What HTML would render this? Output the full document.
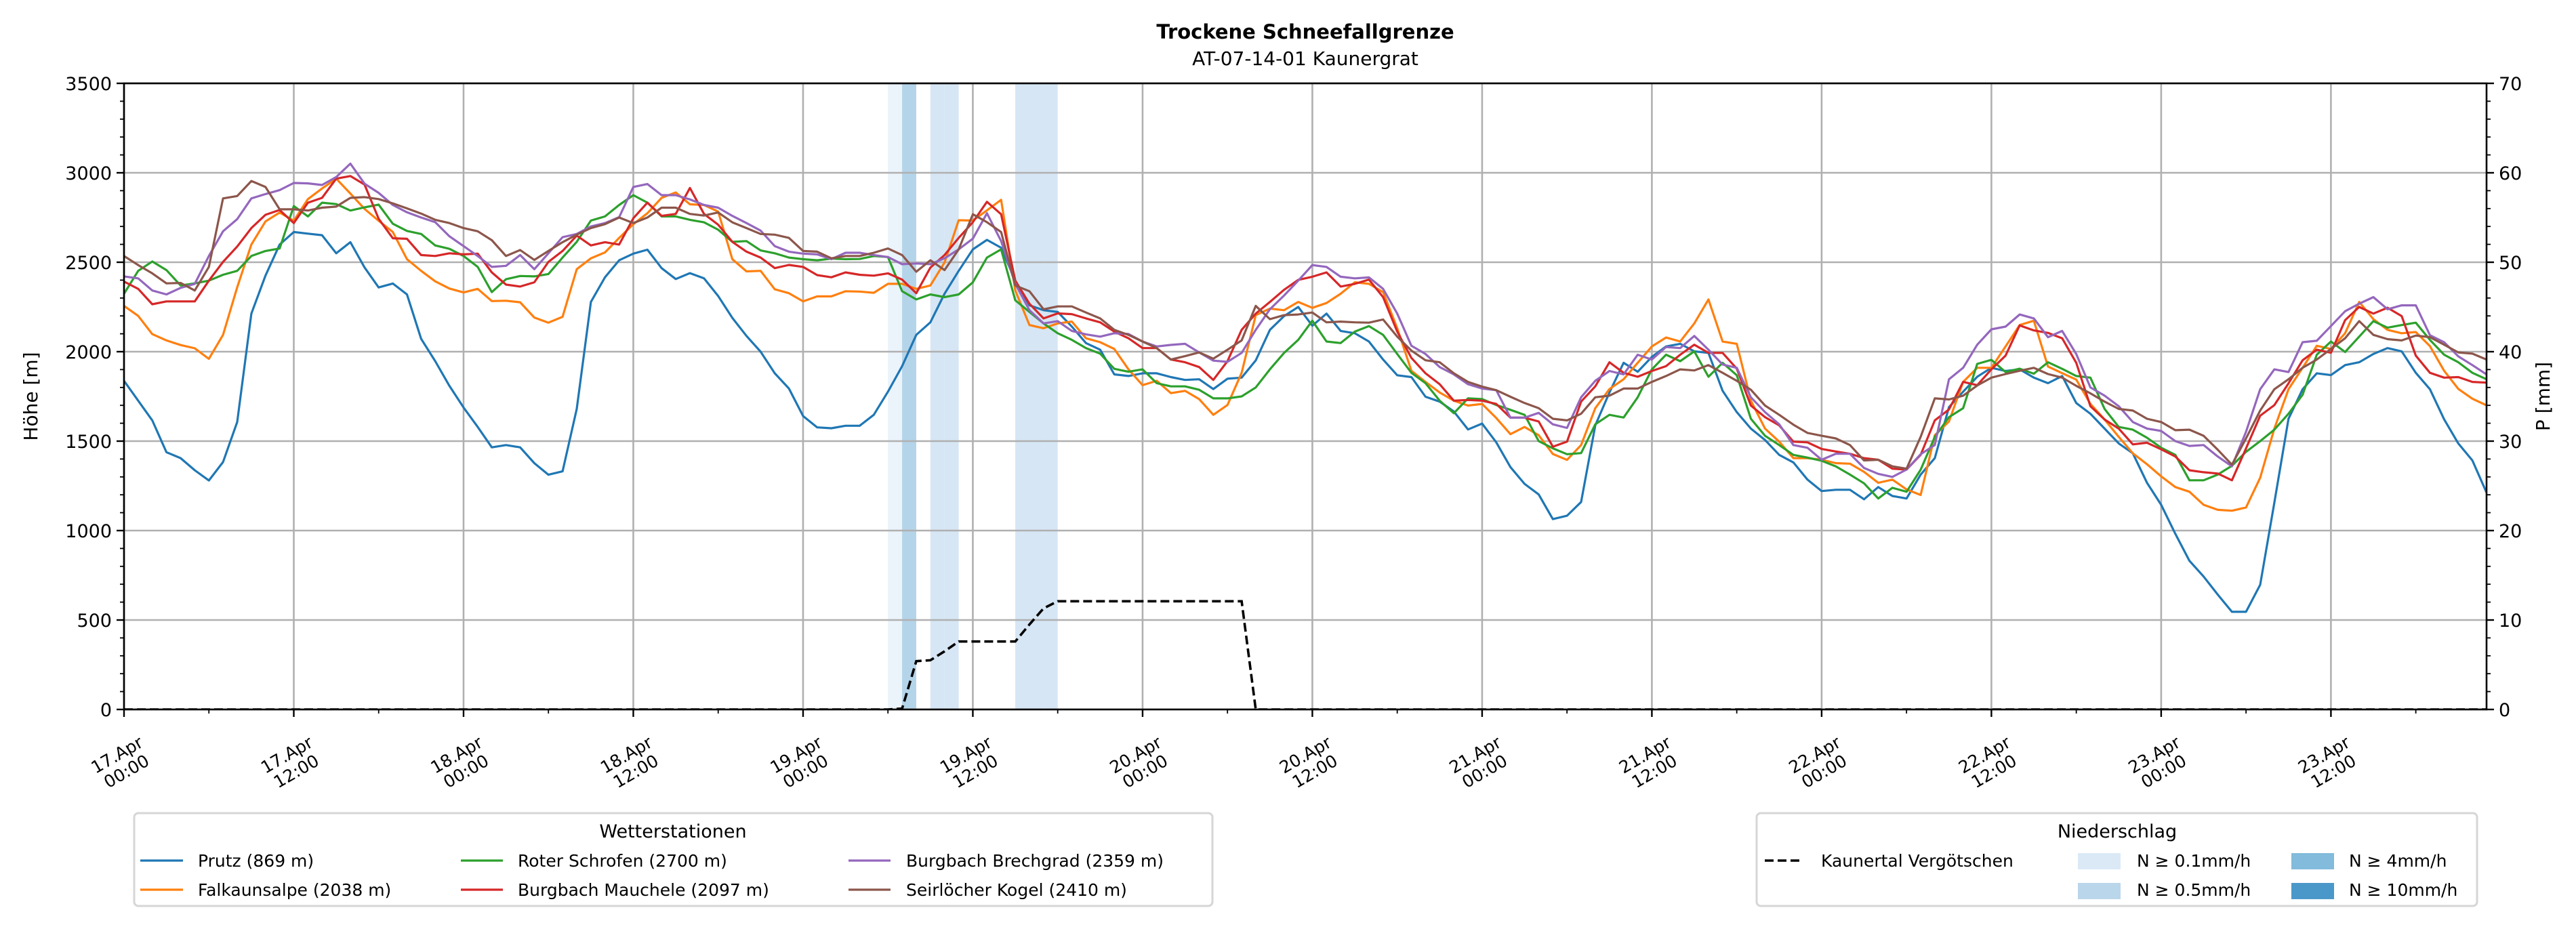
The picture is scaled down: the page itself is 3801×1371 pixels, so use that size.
<!DOCTYPE html>
<html><head><meta charset="utf-8"><style>
html,body{margin:0;padding:0;background:#fff;}
svg{display:block;font-family:"DejaVu Sans","Liberation Sans",sans-serif;}
</style></head><body>
<svg id="chart" width="3801" height="1371" viewBox="0 0 3801 1371" xmlns="http://www.w3.org/2000/svg">
<text x="1926" y="57" text-anchor="middle" font-size="29" font-weight="bold">Trockene Schneefallgrenze</text>
<text x="1926" y="96" text-anchor="middle" font-size="28">AT-07-14-01 Kaunergrat</text>
<g id="plot"></g>
<text transform="translate(55,585) rotate(-90)" text-anchor="middle" font-size="28">Höhe [m]</text>
<text transform="translate(3762,585) rotate(-90)" text-anchor="middle" font-size="28">P [mm]</text>
<g>
<rect x="198" y="1200" width="1591" height="137" rx="6" fill="#fff" stroke="#d6d6d6" stroke-width="3"/>
<text x="993" y="1236" text-anchor="middle" font-size="27">Wetterstationen</text>
<g><line x1="207" y1="1270" x2="270" y2="1270" stroke="#1f77b4" stroke-width="3.2"/><text x="292" y="1279" font-size="25">Prutz (869 m)</text></g>
<g><line x1="207" y1="1313" x2="270" y2="1313" stroke="#ff7f0e" stroke-width="3.2"/><text x="292" y="1322" font-size="25">Falkaunsalpe (2038 m)</text></g>
<g><line x1="680" y1="1270" x2="742" y2="1270" stroke="#2ca02c" stroke-width="3.2"/><text x="764" y="1279" font-size="25">Roter Schrofen (2700 m)</text></g>
<g><line x1="680" y1="1313" x2="742" y2="1313" stroke="#d62728" stroke-width="3.2"/><text x="764" y="1322" font-size="25">Burgbach Mauchele (2097 m)</text></g>
<g><line x1="1252" y1="1270" x2="1314" y2="1270" stroke="#9467bd" stroke-width="3.2"/><text x="1337" y="1279" font-size="25">Burgbach Brechgrad (2359 m)</text></g>
<g><line x1="1252" y1="1313" x2="1314" y2="1313" stroke="#8c564b" stroke-width="3.2"/><text x="1337" y="1322" font-size="25">Seirlöcher Kogel (2410 m)</text></g>
</g>
<g>
<rect x="2592" y="1200" width="1063" height="137" rx="6" fill="#fff" stroke="#d6d6d6" stroke-width="3"/>
<text x="3124" y="1236" text-anchor="middle" font-size="27">Niederschlag</text>
<g><line x1="2604" y1="1270" x2="2660" y2="1270" stroke="#000" stroke-width="3.5" stroke-dasharray="13,6"/><text x="2687" y="1279" font-size="25">Kaunertal Vergötschen</text></g>
<g><rect x="3066" y="1259" width="63" height="24" fill="#dbe9f6"/><text x="3153" y="1279" font-size="25">N ≥ 0.1mm/h</text></g>
<g><rect x="3066" y="1303" width="63" height="24" fill="#bad6eb"/><text x="3153" y="1322" font-size="25">N ≥ 0.5mm/h</text></g>
<g><rect x="3381" y="1259" width="63" height="24" fill="#82bbdb"/><text x="3466" y="1279" font-size="25">N ≥ 4mm/h</text></g>
<g><rect x="3381" y="1303" width="63" height="24" fill="#4a98c9"/><text x="3466" y="1322" font-size="25">N ≥ 10mm/h</text></g>
</g>
</svg>
<script>
const prutz=[1837,1726,1616,1438,1405,1337,1280,1383,1607,2213,2425,2599,2669,2660,2651,2550,2612,2471,2359,2381,2320,2072,1947,1809,1688,1579,1465,1478,1465,1377,1312,1331,1680,2278,2416,2511,2548,2570,2467,2406,2439,2410,2311,2189,2088,2000,1879,1794,1640,1577,1572,1586,1586,1647,1776,1919,2094,2164,2324,2452,2572,2625,2581,2397,2259,2232,2222,2140,2048,2011,1873,1864,1879,1879,1858,1842,1846,1791,1849,1855,1951,2122,2199,2250,2145,2213,2116,2103,2057,1956,1868,1858,1748,1721,1666,1565,1598,1493,1355,1261,1202,1064,1083,1160,1588,1772,1938,1888,1971,2029,2044,2002,1993,1781,1662,1570,1506,1423,1381,1285,1221,1228,1228,1175,1243,1193,1179,1313,1405,1690,1776,1860,1910,1892,1901,1855,1824,1864,1713,1653,1570,1487,1432,1267,1144,982,831,743,642,546,546,697,1156,1625,1790,1879,1869,1925,1941,1987,2020,2002,1882,1790,1622,1487,1392,1212];
const falkaunsalpe=[2256,2200,2098,2063,2037,2019,1960,2094,2360,2599,2728,2778,2732,2853,2912,2967,2884,2798,2732,2669,2517,2452,2393,2353,2331,2351,2283,2285,2276,2191,2162,2195,2461,2522,2555,2636,2713,2774,2860,2890,2824,2820,2783,2517,2449,2452,2349,2327,2281,2309,2309,2338,2336,2329,2379,2379,2351,2370,2498,2735,2733,2790,2849,2342,2149,2131,2158,2168,2075,2053,2015,1901,1813,1837,1768,1781,1735,1647,1702,1882,2204,2241,2232,2278,2245,2272,2324,2388,2379,2333,2131,1893,1831,1772,1726,1699,1708,1629,1539,1579,1533,1428,1395,1478,1684,1791,1846,1938,2029,2079,2057,2158,2292,2057,2044,1726,1570,1497,1405,1405,1396,1377,1374,1328,1267,1285,1230,1199,1533,1610,1831,1910,1910,2029,2149,2173,1917,1880,1844,1708,1621,1524,1432,1371,1303,1243,1217,1144,1116,1111,1129,1295,1570,1790,1910,2033,2015,2103,2278,2182,2122,2103,2110,2031,1893,1792,1737,1700];
const roterSchrofen=[2324,2452,2504,2456,2370,2382,2397,2430,2452,2535,2563,2577,2814,2756,2833,2825,2789,2807,2822,2715,2675,2658,2594,2575,2535,2474,2333,2405,2423,2421,2434,2526,2614,2733,2756,2820,2875,2833,2756,2756,2737,2723,2682,2614,2618,2566,2550,2526,2517,2511,2520,2517,2518,2535,2529,2338,2292,2320,2305,2320,2388,2526,2572,2287,2222,2158,2103,2066,2020,1989,1904,1888,1901,1824,1806,1806,1787,1739,1739,1750,1800,1901,1993,2066,2173,2057,2048,2112,2143,2094,1987,1882,1824,1726,1656,1739,1735,1702,1675,1647,1500,1460,1427,1433,1594,1647,1632,1745,1901,1983,1947,2002,1860,1938,1868,1625,1530,1478,1423,1408,1390,1359,1313,1264,1179,1239,1217,1340,1524,1634,1684,1932,1954,1886,1905,1877,1941,1904,1864,1855,1680,1579,1564,1519,1463,1423,1281,1281,1313,1362,1440,1500,1564,1653,1759,1983,2057,1998,2084,2171,2134,2149,2162,2066,1983,1941,1882,1846];
const burgbachMauchele=[2392,2351,2265,2281,2281,2281,2397,2502,2588,2691,2765,2792,2719,2833,2860,2967,2982,2934,2743,2634,2631,2540,2535,2550,2544,2548,2443,2375,2364,2388,2502,2563,2649,2594,2612,2599,2746,2833,2759,2770,2915,2770,2710,2614,2559,2526,2467,2485,2474,2428,2416,2443,2430,2425,2438,2403,2327,2470,2540,2636,2724,2838,2768,2397,2268,2186,2214,2210,2186,2164,2112,2075,2020,2020,1956,1941,1914,1842,1947,2122,2213,2278,2346,2401,2419,2443,2364,2379,2403,2305,2112,1965,1879,1818,1726,1730,1726,1708,1631,1631,1610,1469,1497,1721,1806,1941,1882,1860,1892,1919,1983,2039,1993,1993,1905,1699,1634,1588,1497,1493,1456,1442,1429,1405,1396,1346,1341,1423,1616,1677,1831,1813,1901,1978,2147,2119,2105,2075,1938,1695,1621,1570,1482,1491,1454,1414,1337,1326,1319,1281,1459,1642,1701,1823,1952,2011,1994,2176,2250,2213,2246,2199,1978,1882,1855,1858,1831,1827];
const burgbachBrechgrad=[2421,2410,2342,2320,2357,2379,2535,2673,2741,2857,2881,2903,2943,2941,2932,2976,3051,2939,2888,2820,2779,2750,2724,2645,2590,2535,2474,2480,2540,2461,2550,2640,2658,2700,2719,2752,2921,2937,2875,2875,2851,2820,2805,2759,2719,2677,2590,2559,2548,2544,2517,2553,2553,2540,2529,2489,2493,2489,2522,2572,2632,2774,2618,2379,2232,2158,2171,2116,2097,2084,2103,2099,2057,2029,2038,2044,1996,1950,1943,1993,2122,2237,2314,2397,2484,2474,2419,2410,2415,2351,2213,2033,1987,1914,1873,1818,1794,1785,1631,1631,1658,1594,1574,1745,1837,1892,1873,1983,1956,2026,2020,2088,2011,1928,1910,1745,1662,1594,1478,1463,1396,1429,1429,1350,1317,1300,1341,1427,1478,1846,1910,2039,2125,2140,2208,2186,2081,2116,1987,1800,1754,1695,1607,1570,1557,1500,1473,1478,1414,1359,1552,1790,1901,1886,2053,2061,2143,2226,2268,2305,2237,2259,2259,2092,2053,1974,1925,1873];
const seirloecherKogel=[2535,2484,2438,2382,2384,2342,2474,2857,2870,2954,2921,2796,2796,2789,2805,2811,2860,2864,2853,2829,2801,2772,2737,2719,2691,2673,2623,2535,2568,2513,2563,2612,2654,2691,2713,2750,2719,2750,2805,2805,2770,2761,2778,2723,2691,2658,2654,2636,2563,2559,2522,2535,2535,2553,2577,2540,2447,2511,2456,2572,2768,2724,2669,2370,2338,2237,2253,2253,2219,2186,2122,2094,2057,2020,1956,1975,1996,1961,2011,2063,2256,2182,2204,2208,2219,2164,2168,2164,2162,2180,2084,2006,1952,1941,1879,1831,1805,1785,1748,1713,1684,1625,1616,1653,1745,1754,1794,1794,1831,1864,1901,1895,1925,1882,1837,1787,1699,1647,1592,1546,1530,1515,1478,1392,1396,1359,1346,1524,1739,1733,1754,1811,1855,1875,1893,1910,1875,1855,1809,1767,1721,1680,1671,1625,1607,1561,1564,1530,1452,1368,1515,1671,1790,1846,1910,1956,2015,2075,2171,2094,2070,2063,2090,2081,2039,1996,1989,1956];
const kaunertalP=[0,0,0,0,0,0,0,0,0,0,0,0,0,0,0,0,0,0,0,0,0,0,0,0,0,0,0,0,0,0,0,0,0,0,0,0,0,0,0,0,0,0,0,0,0,0,0,0,0,0,0,0,0,0,0,0.1,5.4,5.5,6.5,7.6,7.6,7.6,7.6,7.6,9.5,11.3,12.1,12.1,12.1,12.1,12.1,12.1,12.1,12.1,12.1,12.1,12.1,12.1,12.1,12.1,0,0,0,0,0,0,0,0,0,0,0,0,0,0,0,0,0,0,0,0,0,0,0,0,0,0,0,0,0,0,0,0,0,0,0,0,0,0,0,0,0,0,0,0,0,0,0,0,0,0,0,0,0,0,0,0,0,0,0,0,0,0,0,0,0,0,0,0,0,0,0,0,0,0,0,0,0,0,0,0,0,0,0,0,0,0,0,0,0,0,0,0,0,0];
const precipHours=[54,55,57,58,63,64,65];
const precipRates=[0.05,0.6,0.2,0.2,0.3,0.3,0.3];
const yTicks=[0,500,1000,1500,2000,2500,3000,3500];
const y2Ticks=[0,10,20,30,40,50,60,70];
const xTickHours=[0,12,24,36,48,60,72,84,96,108,120,132,144];
const xTickLabels=[["17.Apr","00:00"],["17.Apr","12:00"],["18.Apr","00:00"],["18.Apr","12:00"],["19.Apr","00:00"],["19.Apr","12:00"],["20.Apr","00:00"],["20.Apr","12:00"],["21.Apr","00:00"],["21.Apr","12:00"],["22.Apr","00:00"],["22.Apr","12:00"],["23.Apr","00:00"],["23.Apr","12:00"]];
</script>
<script>
const NS="http://www.w3.org/2000/svg";
const L=183,R=3669,T=123,B=1047;
const XMAX=167;
const xs=h=>L+(R-L)*h/XMAX;
const ys=v=>B-(B-T)*v/3500;
const ys2=v=>B-(B-T)*v/70;
const plot=document.getElementById('plot');
function mk(tag,attrs,parent){const e=document.createElementNS(NS,tag);for(const k in attrs)e.setAttribute(k,attrs[k]);(parent||plot).appendChild(e);return e;}
const xTickH=xTickLabels.map((_,i)=>i*12);
// precip bands
precipHours.forEach((h,i)=>{
  const r=precipRates[i];
  const c=r>=10?'#4a98c9':r>=4?'#82bbdb':r>=0.5?'#b4d4e9':r>=0.1?'#d6e6f4':'#ebf3fb';
  const e=mk('rect',{x:xs(h),y:T,width:xs(h+1)-xs(h),height:B-T,fill:c});
  
  
});
// grid
yTicks.forEach(v=>{const e=mk('line',{x1:L,x2:R,y1:ys(v),y2:ys(v),stroke:'#b0b0b0','stroke-width':2.6});
  
  });
xTickH.forEach(h=>{const e=mk('line',{x1:xs(h),x2:xs(h),y1:T,y2:B,stroke:'#b0b0b0','stroke-width':2.6});
  
  });
// series
const series=[[prutz,'#1f77b4','series-prutz'],[falkaunsalpe,'#ff7f0e','series-falkaunsalpe'],[roterSchrofen,'#2ca02c','series-roter-schrofen'],[burgbachMauchele,'#d62728','series-burgbach-mauchele'],[burgbachBrechgrad,'#9467bd','series-burgbach-brechgrad'],[seirloecherKogel,'#8c564b','series-seirloecher-kogel']];
mk('clipPath',{id:'clip'}).appendChild((()=>{const r=document.createElementNS(NS,'rect');r.setAttribute('x',L);r.setAttribute('y',T);r.setAttribute('width',R-L);r.setAttribute('height',B-T);return r;})());
series.forEach(s=>{
  const d=s[0].map((v,i)=>(i?'L':'M')+xs(i).toFixed(1)+','+ys(v).toFixed(1)).join('');
  const e=mk('path',{d:d,fill:'none',stroke:s[1],'stroke-width':3.2,'stroke-linejoin':'round','clip-path':'url(#clip)'});
  
  
});
{const d=kaunertalP.map((v,i)=>(i?'L':'M')+xs(i).toFixed(1)+','+ys2(v).toFixed(1)).join('');
 const e=mk('path',{d:d,fill:'none',stroke:'#000','stroke-width':3.6,'stroke-dasharray':'13,6','clip-path':'url(#clip)'});
 
 }
// spines
const sp=mk('rect',{x:L,y:T,width:R-L,height:B-T,fill:'none',stroke:'#000','stroke-width':2.6});


// y ticks left
for(let v=0;v<=3500;v+=100){const maj=v%500===0;mk('line',{x1:L,x2:L-(maj?11:6),y1:ys(v),y2:ys(v),stroke:'#000','stroke-width':maj?2.4:1.8});}
yTicks.forEach(v=>{const e=mk('text',{x:L-18,y:ys(v)+10,'text-anchor':'end','font-size':27});e.textContent=v;
  
  });
// y2 ticks
for(let v=0;v<=70;v+=2){const maj=v%10===0;mk('line',{x1:R,x2:R+(maj?11:6),y1:ys2(v),y2:ys2(v),stroke:'#000','stroke-width':maj?2.4:1.8});}
y2Ticks.forEach(v=>{const e=mk('text',{x:R+18,y:ys2(v)+10,'text-anchor':'start','font-size':27});e.textContent=v;
  
  });
// x ticks
for(let h=0;h<=XMAX;h+=6){const maj=h%12===0;mk('line',{x1:xs(h),x2:xs(h),y1:B,y2:B+(maj?11:6),stroke:'#000','stroke-width':maj?2.4:1.8});}
xTickLabels.forEach((lab,i)=>{
  const cx=xs(xTickH[i])-4,cy=1125;
  const g=mk('g',{transform:`translate(${cx},${cy}) rotate(-30)`});
  
  
  const a=mk('text',{x:0,y:-4,'text-anchor':'middle','font-size':25},g);a.textContent=lab[0];
  const b=mk('text',{x:0,y:24,'text-anchor':'middle','font-size':25},g);b.textContent=lab[1];
});
</script>
</body></html>
